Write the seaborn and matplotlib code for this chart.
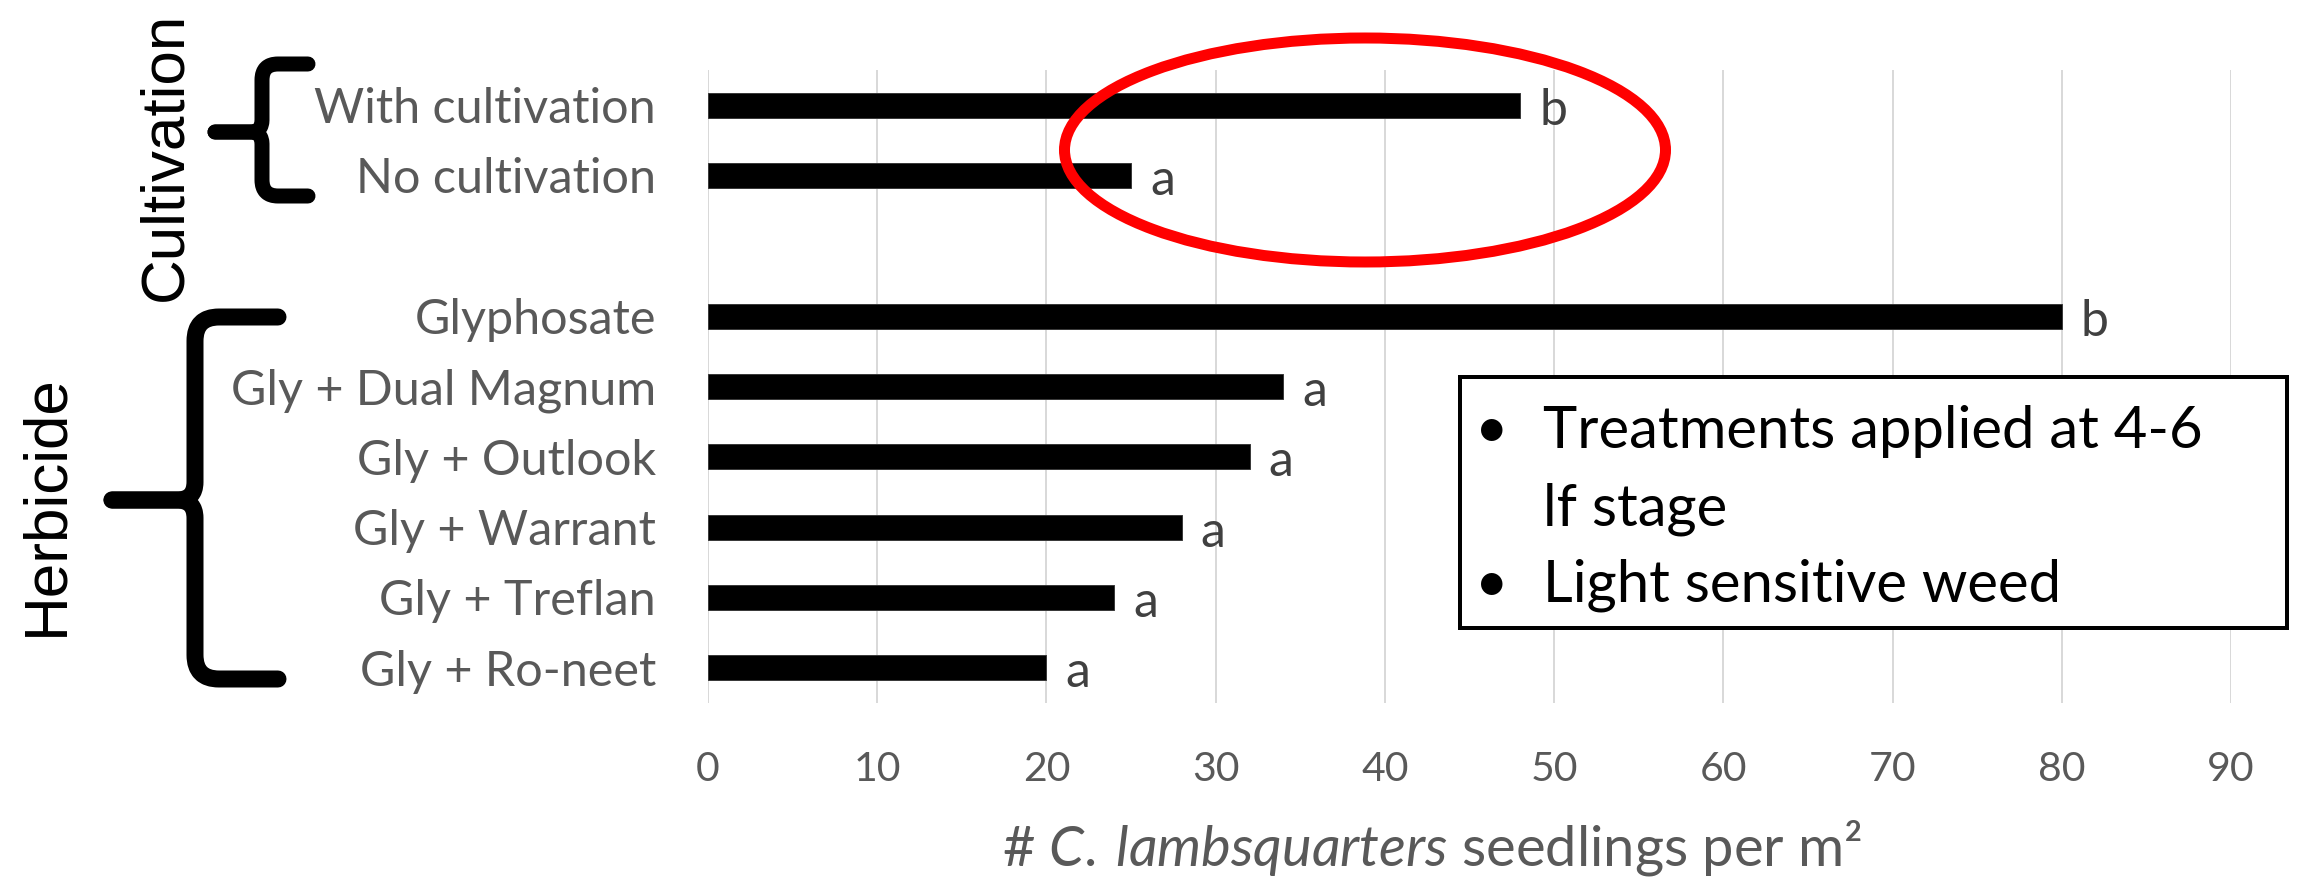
import matplotlib
matplotlib.use("Agg")
import matplotlib.pyplot as plt
from matplotlib.path import Path
from matplotlib.patches import PathPatch, Ellipse, Rectangle
import pandas as pd
import seaborn as sns

# ---- data -------------------------------------------------------------
treatments = ["With cultivation", "No cultivation", "Glyphosate",
              "Gly + Dual Magnum", "Gly + Outlook", "Gly + Warrant",
              "Gly + Treflan", "Gly + Ro-neet"]
seedlings = [48, 25, 80, 34, 32, 28, 24, 20]
letters = ["b", "a", "b", "a", "a", "a", "a", "a"]
spacer = " "
order = treatments[:2] + [spacer] + treatments[2:]
x_ticks = [0, 10, 20, 30, 40, 50, 60, 70, 80, 90]
group_labels = ["Cultivation", "Herbicide"]
notes = ["Treatments applied at 4-6\nlf stage", "Light sensitive weed"]
x_title = "# $\\mathit{C.}\\:\\mathit{lambsquarters}$ seedlings per m\u00b2"

# ---- style ------------------------------------------------------------
sns.set_style("white")
plt.rcParams["font.family"] = ["Lato", "DejaVu Sans"]
plt.rcParams["mathtext.fontset"] = "custom"
plt.rcParams["mathtext.rm"] = "Lato"
plt.rcParams["mathtext.it"] = "Lato:italic"

W, H, DPI = 2300, 884, 100
fig = plt.figure(figsize=(W / DPI, H / DPI), dpi=DPI)
px = 72.0 / DPI  # points per pixel

# axes box in pixels: left 708, right 2231, top 70, bottom 703
ax = fig.add_axes([708 / W, 1 - 703 / H, (2231 - 708) / W, (703 - 70) / H])

df = pd.DataFrame({"treatment": treatments, "seedlings": seedlings})
sns.barplot(data=df, x="seedlings", y="treatment", order=order, orient="h",
            color="black", saturation=1, width=0.36, errorbar=None, ax=ax,
            edgecolor="#3a3a3a", linewidth=1 * px, zorder=3)

ax.set_xlim(0, 90)
ax.set_xticks(x_ticks)
ax.set_xticklabels([str(t) for t in x_ticks])
ax.grid(axis="x", color="#d9d9d9", linewidth=2 * px, zorder=0)
ax.grid(axis="y", visible=False)
for s in ax.spines.values():
    s.set_visible(False)
ax.tick_params(axis="both", length=0)
ax.tick_params(axis="y", pad=52 * px, labelsize=48.5 * px, labelcolor="#595959")
ax.tick_params(axis="x", pad=48 * px, labelsize=41 * px, labelcolor="#595959")
ax.set_ylabel("")
ax.set_xlabel(x_title, fontsize=56 * px, color="#595959")
ax.xaxis.set_label_coords((1432 - 708) / (2231 - 708), -(848 - 703) / (703 - 70))
ax.xaxis.label.set_verticalalignment("center")

# significance letters after each bar end
for name, val, let in zip(treatments, seedlings, letters):
    ax.annotate(let, xy=(val, order.index(name)), xytext=(19 * px, -19.5 * px),
                textcoords="offset points", ha="left", va="baseline",
                fontsize=50 * px, color="#404040", zorder=4)

# ---- overlay in pixel coordinates --------------------------------------
ov = fig.add_axes([0, 0, 1, 1])
ov.set_xlim(0, W)
ov.set_ylim(H, 0)
ov.axis("off")
ov.patch.set_alpha(0)
ov.set_zorder(5)


def brace(x_end, x_stem, x_tip, y_top, y_mid, y_bot, r, r2, lw):
    for y_arm, sgn in ((y_top, 1), (y_bot, -1)):
        verts = [(x_end, y_arm), (x_stem + r, y_arm),
                 (x_stem, y_arm), (x_stem, y_arm + sgn * r),
                 (x_stem, y_mid - sgn * r2),
                 (x_stem, y_mid), (x_stem - r2, y_mid),
                 (x_tip, y_mid)]
        codes = [Path.MOVETO, Path.LINETO,
                 Path.CURVE3, Path.CURVE3,
                 Path.LINETO,
                 Path.CURVE3, Path.CURVE3,
                 Path.LINETO]
        ov.add_patch(PathPatch(Path(verts, codes), fill=False, edgecolor="black",
                               linewidth=lw * px, capstyle="round",
                               joinstyle="round"))


brace(308, 262, 215, 64, 132, 196, 16, 12, 15)
brace(278, 195, 112, 317, 500, 679, 24, 18, 17)

ov.text(166, 156, group_labels[0], rotation=90, ha="center", va="center",
        fontsize=62 * px, color="black", family="Liberation Sans")
ov.text(47, 505, group_labels[1], rotation=90, ha="center", va="center",
        fontsize=62 * px, color="black", family="Liberation Sans")

# highlight around the cultivation bars
ov.add_patch(Ellipse((1365, 150), 601, 224, fill=False, edgecolor="#ff0000",
                     linewidth=11 * px))

# notes box
ov.add_patch(Rectangle((1460, 377), 2287 - 1460, 628 - 377, facecolor="white",
                       edgecolor="black", linewidth=4 * px))
note_lines = notes[0].split("\n") + [notes[1]]
baselines = [448, 525, 602]
bullet_rows = [0, 2]
for i, (line, yb) in enumerate(zip(note_lines, baselines)):
    ov.text(1543, yb, line, ha="left", va="baseline", fontsize=58 * px,
            color="black")
    if i in bullet_rows:
        ov.text(1492, yb, "\u2022", ha="center", va="baseline",
                fontsize=58 * px, color="black")

fig.savefig("out.png", dpi=DPI)
